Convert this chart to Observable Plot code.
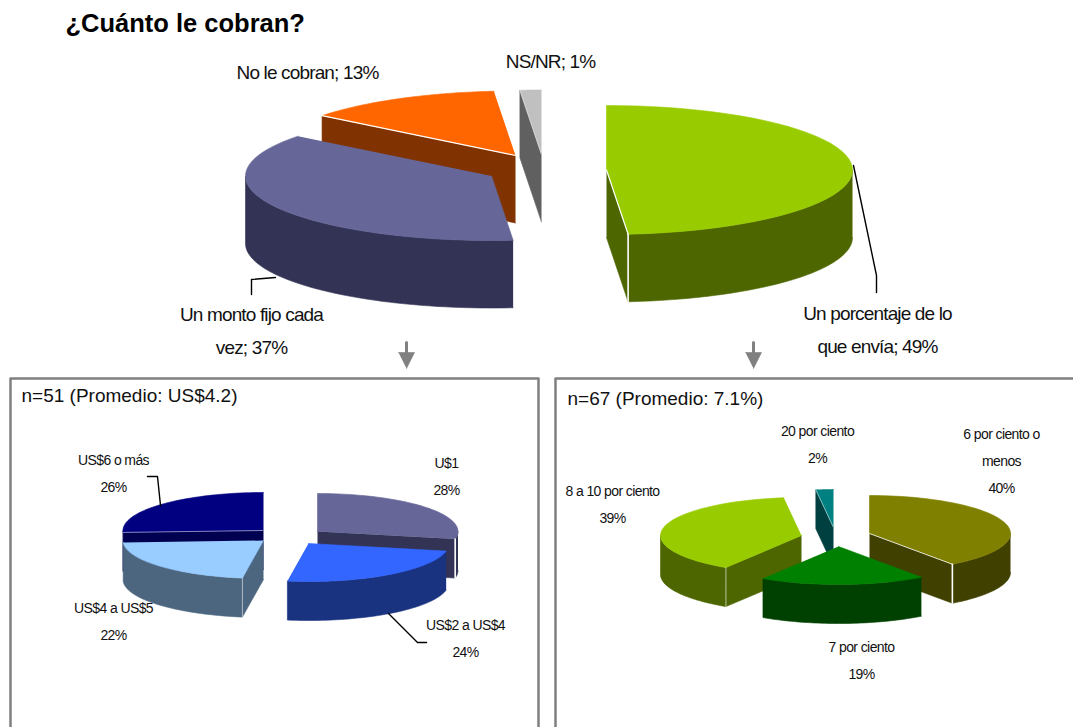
<!DOCTYPE html>
<html>
<head>
<meta charset="utf-8">
<style>html,body{margin:0;padding:0;background:#fff}svg{display:block}</style>
<script src="https://cdn.jsdelivr.net/npm/d3@7"></script>
<script src="https://cdn.jsdelivr.net/npm/@observablehq/plot@0.6"></script>
</head>
<body>
<script>
// ---- data (shares in %, sum 100, labels show them rounded)
const mainCategories = ["Un porcentaje de lo\nque envía", "Un monto fijo cada\nvez", "No le cobran", "NS/NR"];
const mainValues = [48.6, 37.0, 13.0, 1.4];
const fixedCategories = ["U$1", "US$2 a US$4", "US$4 a US$5", "US$6 o más"];
const fixedValues = [28.2, 24.2, 21.8, 25.8];
const percentCategories = ["6 por ciento o\nmenos", "7 por ciento", "8 a 10 por ciento", "20 por ciento"];
const percentValues = [40, 19, 39, 2];
const titleText = "¿Cuánto le cobran?";
const fixedNote = "n=51 (Promedio: US$4.2)";
const percentNote = "n=67 (Promedio: 7.1%)";

// ---- styling and layout
const W = 1073, H = 727;
const mainStyle = {
  rx: 246, ry: 64.5, depth: 67.5,
  centers: [[606,169.5],[491,175.5],[515,155],[541,154]],
  top: ["#99CC00","#666699","#FF6600","#C0C0C0"],
  side: ["#4D6600","#333355","#803300","#606060"],
  seamTop: [1.2,0,1.2,0.4], seamSide: [1.6,0,0,0],
  order: [3,2,1,0],
  labels: [[877,313],[251,314],[307,72],[550,61]], font: 19, gap: 33, sep: "; ", spacing: -0.85
};
const fixedStyle = {
  rx: 140.5, ry: 38, depth: 39,
  centers: [[317,531],[308,543],[263,540],[263,530]],
  top: ["#666699","#3366FF","#99CCFF","#000080"],
  side: ["#333355","#1A3380","#4D6680","#000050"],
  seamTop: [0,0,0,0.5], seamSide: [1.6,0,0.5,0],
  order: [3,2,0,1],
  labels: [[446,463],[465,625],[113,608],[113,460]], font: 14, gap: 27, sep: "\n", spacing: -0.6
};
const percentStyle = {
  rx: 141, ry: 38, depth: 39,
  centers: [[869,533],[838,546],[801,535],[833,527]],
  top: ["#808000","#008000","#99CC00","#008080"],
  side: ["#404000","#004000","#4D6600","#004040"],
  seamTop: [0.8,0,0,0.5], seamSide: [1.6,0,0.6,0],
  order: [3,0,2,1],
  labels: [[1001,434],[861,647],[612,491],[817,431]], font: 14, gap: 27, sep: "\n", spacing: -0.6
};
const leaders = [
  [[275,277],[251,279],[251,294]],
  [[853,165],[876,275],[876,292]],
  [[147,476],[157,476],[160,505]],
  [[388,613],[417,642],[426,642]]
];
const boxes = [
  [[10,727],[10,378],[538,378],[538,727]],
  [[555,727],[555,378],[1073,378]]
];
const arrowXs = [406, 753];

// ---- helpers
const rad = d => d * Math.PI / 180;
const seq = (a, b, n = 48) => d3.range(n + 1).map(i => a + (b - a) * i / n);
const poly = (pts, color) => Plot.line(pts, {x: d => d[0], y: d => d[1], fill: color, stroke: color, strokeWidth: 0.6});
const seam = (pts, w) => Plot.line(pts, {x: d => d[0], y: d => d[1], stroke: "#fff", strokeWidth: w});

function pieMarks(values, categories, s) {
  const total = d3.sum(values);
  let acc = 0;
  const slices = values.map((v, i) => {
    const a0 = acc; acc += v / total * 360;
    return {i, a0, a1: acc};
  });
  const marks = [];
  for (const k of s.order) {
    const {i, a0, a1} = slices[k];
    const c = s.centers[i];
    const pt = (a, z = 0) => [c[0] + s.rx * Math.sin(rad(a)), c[1] - s.ry * Math.cos(rad(a)) + z];
    const down = [c[0], c[1] + s.depth];
    const radial = a => [c, pt(a), pt(a, s.depth), down];
    let seamAngle = null;
    if (Math.sin(rad(a0)) < -1e-6) { marks.push(poly(radial(a0), s.side[i])); seamAngle = a0; }
    if (Math.sin(rad(a1)) > 1e-6) { marks.push(poly(radial(a1), s.side[i])); seamAngle = a1; }
    const o0 = Math.max(a0, 90), o1 = Math.min(a1, 270);
    if (o0 < o1) {
      const arc = seq(o0, o1);
      marks.push(poly([...arc.map(a => pt(a)), ...arc.slice().reverse().map(a => pt(a, s.depth))], s.side[i]));
    }
    marks.push(poly([c, ...seq(a0, a1).map(a => pt(a))], s.top[i]));
    if (seamAngle !== null) {
      if (s.seamSide[i]) marks.push(seam([pt(seamAngle), pt(seamAngle, s.depth)], s.seamSide[i]));
      if (s.seamTop[i]) marks.push(seam([c, pt(seamAngle)], s.seamTop[i]));
    }
  }
  return marks;
}

function labelRows(values, categories, s) {
  const rows = [];
  values.forEach((v, i) => {
    const lines = (categories[i] + s.sep + Math.round(v) + "%").split("\n");
    lines.forEach((t, j) => rows.push({t, x: s.labels[i][0], y: s.labels[i][1] + j * s.gap}));
  });
  return rows;
}
const FONT = "Liberation Sans, Arial, sans-serif";
const textMark = (rows, s) => Plot.text(rows, {
  x: "x", y: "y", text: "t", fontSize: s.font, fill: "#111",
  fontFamily: FONT, lineAnchor: "middle",
  render(index, scales, values, dimensions, context, next) {
    const g = next(index, scales, values, dimensions, context);
    g.setAttribute("letter-spacing", s.spacing);
    return g;
  }
});
const arrowMarks = arrowXs.flatMap(x => [
  Plot.line([[x,342],[x,353]], {x: d => d[0], y: d => d[1], stroke: "#808080", strokeWidth: 3}),
  poly([[x-8,352],[x+8,352],[x,368]], "#808080")
]);

const chart = Plot.plot({
  width: W, height: H,
  margin: 0,
  x: {domain: [0, W], range: [0, W], axis: null},
  y: {domain: [0, H], range: [0, H], axis: null},
  style: {background: "#fff"},
  marks: [
    ...boxes.map(b => Plot.line(b, {x: d => d[0], y: d => d[1], stroke: "#808080", strokeWidth: 2.5})),
    ...arrowMarks,
    ...pieMarks(mainValues, mainCategories, mainStyle),
    ...pieMarks(fixedValues, fixedCategories, fixedStyle),
    ...pieMarks(percentValues, percentCategories, percentStyle),
    ...leaders.map(l => Plot.line(l, {x: d => d[0], y: d => d[1], stroke: "#000", strokeWidth: 1.4})),
    textMark(labelRows(mainValues, mainCategories, mainStyle), mainStyle),
    textMark(labelRows(fixedValues, fixedCategories, fixedStyle), fixedStyle),
    textMark(labelRows(percentValues, percentCategories, percentStyle), percentStyle),
    Plot.text([titleText], {x: [65], y: [23], text: d => d, textAnchor: "start", fontSize: 25.5, fontWeight: "bold", fill: "#000", fontFamily: FONT}),
    Plot.text([fixedNote, percentNote], {x: [21, 567], y: [395, 398], text: d => d, textAnchor: "start", fontSize: 19, fill: "#111", fontFamily: FONT})
  ]
});
document.body.appendChild(chart);
</script>
</body>
</html>
